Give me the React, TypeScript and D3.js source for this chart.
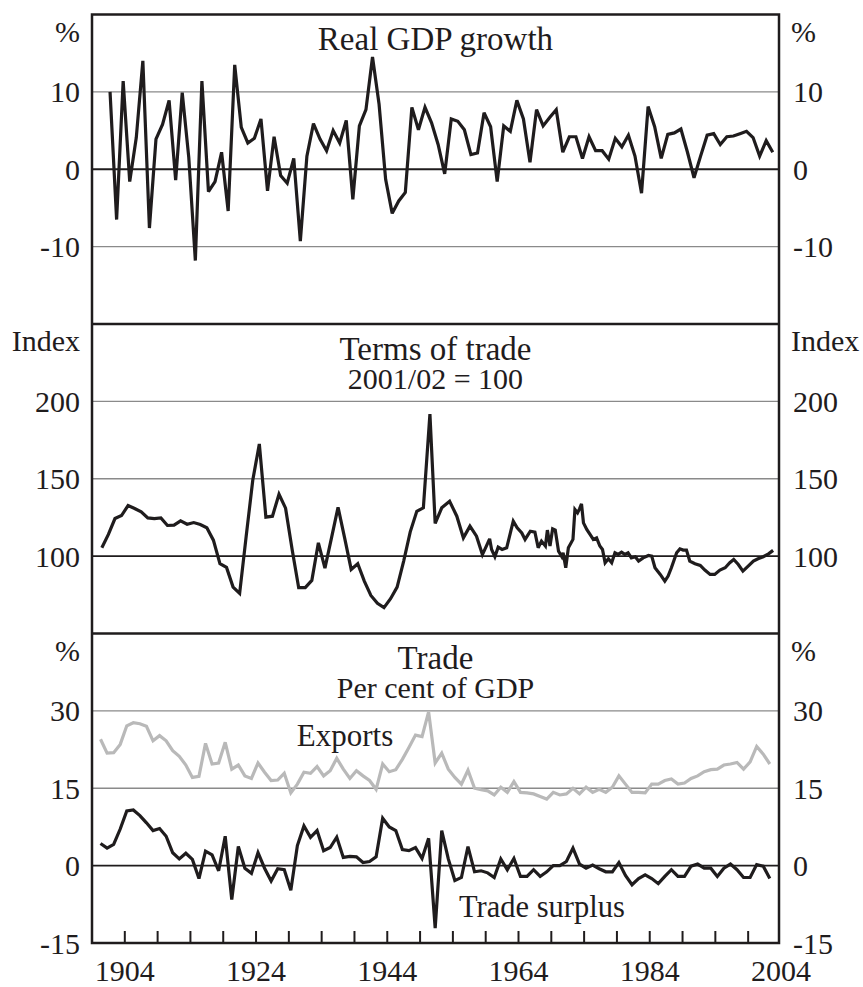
import React from 'react';
import * as d3 from 'd3';

const W = 863;
const H = 987;
const FONT = '"Liberation Serif", "Times New Roman", Times, serif';
const DARK = '#1f1c1d';

// Real GDP growth, per cent, financial years (first plotted at gdpStart)
const gdpStart = 1901.75;
const gdpGrowth = [
  10.0, -6.5, 11.4, -1.6, 4.1, 14.0, -7.6, 3.9, 5.8, 8.9,
  -1.4, 9.9, 1.5, -11.8, 11.4, -2.9, -1.6, 2.2, -5.4, 13.5,
  5.4, 3.4, 4.0, 6.5, -2.8, 4.2, -0.8, -1.8, 1.4, -9.3,
  1.7, 5.9, 3.9, 2.4, 5.0, 3.4, 6.3, -3.9, 5.6, 7.7,
  14.5, 8.4, -1.3, -5.7, -4.1, -3.0, 8.0, 5.1, 8.0, 6.0,
  3.2, -0.6, 6.5, 6.2, 5.1, 1.9, 2.1, 7.3, 5.5, -1.6,
  5.6, 4.9, 8.9, 6.5, 0.9, 7.7, 5.6, 6.7, 7.7, 2.2,
  4.2, 4.2, 1.4, 4.2, 2.4, 2.4, 1.3, 4.0, 2.9, 4.4,
  1.7, -3.1, 8.1, 5.5, 1.4, 4.5, 4.7, 5.2, 2.2, -1.1,
  1.7, 4.4, 4.6, 3.2, 4.2, 4.3, 4.6, 4.9, 4.1, 1.7,
  3.7, 2.2,
];

// Terms of trade, 2001/02 = 100 — annual to the wool boom
const totAnnualStart = 1900.5;
const totAnnual = [
  105.4, 114, 124.3, 126.2, 132.7, 130.8, 128.6, 124.7, 124.3, 124.7,
  119.8, 120, 122.8, 120.6, 121.7, 120.4, 118.3, 110.3, 95.1, 92.7,
  80, 75.9, 112.9, 149, 172.5, 125.2, 125.8, 140, 131, 104.3,
  79.6, 79.6, 84.3, 108.6, 92.3, 111.8, 131.6, 111.8, 91.4, 95.1,
  83.9, 74.6, 69.5, 66.7, 72.5, 80, 96.8, 115.7, 129, 131.2,
  191.8,
];

// Terms of trade, higher frequency thereafter
const totLaterDates = [
  1951.3, 1952.3, 1953.5, 1954.6, 1955.6, 1956.6, 1957.6, 1958.5, 1959.1, 1959.6,
  1959.9, 1960.4, 1960.9, 1961.5, 1962.2, 1963.2, 1963.8, 1964.5, 1965.0, 1965.8,
  1966.5, 1967.0, 1967.5, 1968.1, 1968.4, 1968.8, 1969.2, 1969.6, 1970.1, 1970.6,
  1970.8, 1971.2, 1971.6, 1972.3, 1972.6, 1973.0, 1973.3, 1973.6, 1973.9, 1974.4,
  1974.9, 1975.4, 1975.9, 1976.4, 1976.8, 1977.2, 1977.7, 1978.2, 1978.7, 1979.2,
  1979.7, 1980.2, 1980.7, 1981.2, 1981.8, 1982.3, 1983.0, 1983.8, 1984.3, 1984.8,
  1985.6, 1986.3, 1986.8, 1987.3, 1988.1, 1988.6, 1989.1, 1989.6, 1990.1, 1990.9,
  1991.7, 1992.4, 1993.2, 1993.9, 1994.7, 1995.5, 1996.2, 1996.8, 1997.5, 1998.2,
  1999.0, 1999.8, 2000.5, 2001.3, 2002.1, 2002.8,
];
const totLater = [
  121.1, 131.2, 135.5, 125.8, 111.8, 119.4, 112.9, 101, 106.5, 111.2,
  104.3, 99.6, 105.8, 104.3, 105.4, 122.6, 118.3, 115, 110.8, 116.1,
  115.5, 105.4, 109.7, 106.5, 116.8, 106.5, 117.6, 116.8, 103.2, 99.6,
  102.2, 92.5, 105.4, 110.8, 130.1, 128, 130.5, 133.8, 121.5, 117.2,
  114, 110.8, 111.8, 106.5, 104.3, 95.7, 98.3, 95.7, 102.2, 101.1,
  102.6, 101.1, 102.2, 98.9, 99.6, 96.8, 98.9, 100.4, 100, 92.5,
  88.2, 83.9, 87.1, 92.5, 102.2, 104.7, 103.9, 103.9, 96.8, 95.1,
  94, 91, 88.2, 88.2, 91, 92.5, 95.7, 97.8, 94.6, 90.3,
  93.5, 96.8, 98.3, 99.6, 101.5, 103.7,
];

// Trade, per cent of GDP, annual
const tradeStart = 1900.3;
const exportsShare = [
  24.5, 21.8, 21.9, 23.5, 27.1, 27.7, 27.5, 27.0, 24.2, 25.2,
  24.2, 22.3, 21.2, 19.5, 17.1, 17.3, 23.7, 19.7, 19.9, 23.9,
  18.7, 19.5, 17.4, 16.9, 19.9, 18.1, 16.5, 16.6, 17.9, 14.1,
  15.8, 18.1, 17.9, 19.2, 17.4, 18.4, 20.8, 18.7, 16.9, 18.4,
  17.4, 16.5, 14.8, 19.7, 18.2, 18.6, 20.6, 22.9, 25.3, 25.0,
  29.8, 19.9, 21.8, 18.7, 17.1, 15.8, 18.5, 15.0, 14.7, 14.5,
  13.7, 15.2, 14.2, 16.3, 14.2, 14.1, 13.9, 13.4, 12.9, 14.2,
  13.7, 13.9, 15.0, 13.9, 15.2, 14.2, 14.8, 14.2, 15.2, 17.4,
  15.8, 14.2, 14.2, 14.1, 15.8, 15.8, 16.5, 16.8, 15.8, 16.0,
  16.9, 17.4, 18.2, 18.6, 18.7, 19.5, 19.7, 20.0, 18.7, 20.1,
  23.1, 21.6, 19.7,
];
const tradeSurplus = [
  4.3, 3.4, 4.1, 7.1, 10.6, 10.8, 9.7, 8.3, 6.8, 7.2,
  5.7, 2.5, 1.3, 2.4, 1.2, -2.5, 2.8, 2.1, -1.0, 5.7,
  -6.6, 3.7, -0.5, -1.5, 2.5, -0.5, -3.0, -0.6, -0.8, -4.8,
  3.9, 7.7, 5.5, 6.8, 2.9, 3.5, 5.5, 1.6, 1.8, 1.7,
  0.6, 0.8, 1.7, 9.2, 7.5, 6.8, 3.1, 2.9, 3.5, 1.4,
  5.3, -12.1, 6.8, 1.3, -2.9, -2.3, 3.7, -1.2, -1.0, -1.4,
  -2.3, 1.3, -0.8, 1.4, -2.1, -2.1, -0.8, -2.1, -1.2, 0,
  0, 0.8, 3.4, 0.3, -0.5, 0.1, -0.6, -1.2, -1.2, 0.6,
  -1.9, -3.7, -2.5, -1.8, -2.5, -3.5, -2.1, -0.8, -2.1, -2.1,
  -0.1, 0.3, -0.5, -0.5, -2.1, -0.5, 0.3, -0.8, -2.3, -2.3,
  0.2, -0.1, -2.5,
];

const tickYears = d3.range(1904, 2000, 5);
const labelYears = [1904, 1924, 1944, 1964, 1984, 2004];

type Pt = [number, number];
const annual = (start: number, vals: number[]): Pt[] => vals.map((v, i) => [start + i, v]);

const left = 92;
const right = 779;
const top = 14.5;
const panelH = 309.5;

const x = d3.scaleLinear().domain([1899, 2003.7]).range([left, right]);

const panels = [
  {
    unit: '%', domain: [-20, 20], grid: [10, -10], base: 0, labels: [10, 0, -10],
    title: 'Real GDP growth', sub: null as string | null,
  },
  {
    unit: 'Index', domain: [50, 250], grid: [200, 150], base: 100, labels: [200, 150, 100],
    title: 'Terms of trade', sub: '2001/02 = 100',
  },
  {
    unit: '%', domain: [-15, 45], grid: [30, 15], base: 0, labels: [30, 15, 0, -15],
    title: 'Trade', sub: 'Per cent of GDP',
  },
];

const App = () => {
  const ys = panels.map((p, i) =>
    d3.scaleLinear().domain(p.domain).range([top + (i + 1) * panelH, top + i * panelH])
  );
  const mk = (y: d3.ScaleLinear<number, number>) =>
    d3.line<Pt>().x(d => x(d[0])).y(d => y(d[1]));

  const gdpPts = annual(gdpStart, gdpGrowth);
  const totPts: Pt[] = [
    ...annual(totAnnualStart, totAnnual),
    ...totLaterDates.map((d, i) => [d, totLater[i]] as Pt),
  ];
  const expPts = annual(tradeStart, exportsShare);
  const surPts = annual(tradeStart, tradeSurplus);

  const bottom = top + 3 * panelH;
  const yTrade = ys[2];

  return (
    <svg width={W} height={H} style={{ position: 'absolute', left: 0, top: 0, background: '#fff' }}
      fontFamily={FONT} fill={DARK}>
      {panels.map((p, i) => {
        const y = ys[i];
        const pTop = top + i * panelH;
        return (
          <g key={i}>
            {p.grid.map(g => (
              <line key={g} x1={left} x2={right} y1={y(g)} y2={y(g)} stroke="#8a8a8a" strokeWidth={1.4} />
            ))}
            <line x1={left} x2={right} y1={y(p.base)} y2={y(p.base)} stroke={DARK} strokeWidth={1.8} />
            {p.labels.map(l => (
              <g key={l} fontSize={30}>
                <text x={80} y={y(l)} textAnchor="end" dominantBaseline="central">{l}</text>
                <text x={793} y={y(l)} textAnchor="start" dominantBaseline="central">{l}</text>
              </g>
            ))}
            <text x={80} y={pTop + 16.5} fontSize={30} textAnchor="end" dominantBaseline="central">{p.unit}</text>
            <text x={791} y={pTop + 16.5} fontSize={30} textAnchor="start" dominantBaseline="central">{p.unit}</text>
            <text x={(left + right) / 2} y={pTop + 35.5} fontSize={33} textAnchor="middle">{p.title}</text>
            {p.sub && (
              <text x={(left + right) / 2} y={pTop + 64.5} fontSize={30} textAnchor="middle">{p.sub}</text>
            )}
          </g>
        );
      })}

      <path d={mk(ys[0])(gdpPts) || ''} fill="none" stroke={DARK} strokeWidth={3.2} strokeLinejoin="miter" strokeMiterlimit={3} />
      <path d={mk(ys[1])(totPts) || ''} fill="none" stroke={DARK} strokeWidth={3.2} strokeLinejoin="miter" strokeMiterlimit={3} />
      <path d={mk(yTrade)(expPts) || ''} fill="none" stroke="#b9b9b9" strokeWidth={3.2} strokeLinejoin="miter" strokeMiterlimit={3} />
      <path d={mk(yTrade)(surPts) || ''} fill="none" stroke={DARK} strokeWidth={3.2} strokeLinejoin="miter" strokeMiterlimit={3} />

      <text x={345} y={745.5} fontSize={31} textAnchor="middle">Exports</text>
      <text x={459} y={917} fontSize={30.5} textAnchor="start">Trade surplus</text>

      {tickYears.map(t => (
        <line key={t} x1={x(t)} x2={x(t)} y1={bottom} y2={bottom - 12} stroke={DARK} strokeWidth={2} />
      ))}
      {labelYears.map(t => (
        <text key={t} x={x(t)} y={981} fontSize={30} textAnchor="middle">{t}</text>
      ))}

      {[1, 2].map(i => (
        <line key={i} x1={left} x2={right} y1={top + i * panelH} y2={top + i * panelH} stroke={DARK} strokeWidth={2.5} />
      ))}
      <rect x={left} y={top} width={right - left} height={3 * panelH} fill="none" stroke={DARK} strokeWidth={2.5} />
    </svg>
  );
};

export default App;
